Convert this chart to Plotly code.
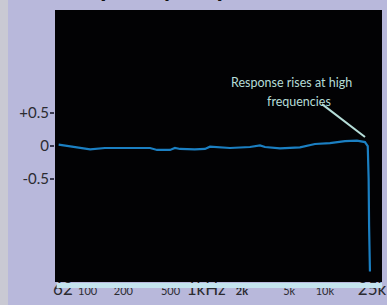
import numpy as np
import plotly.graph_objects as go

# Data (frequency in Hz, level in dB)
freq_hz = [57, 62, 75, 90, 105, 140, 206, 280, 336, 385, 495, 545, 601, 800, 976,
           1075, 1586, 2338, 2838, 3128, 4187, 6170, 8255, 11045, 14780, 18660,
           21790, 23000, 23400, 23600, 23800, 24000]
level_db = [0.02, 0.01, -0.02, -0.04, -0.05, -0.03, -0.03, -0.04, -0.03, -0.06, -0.06,
            -0.03, -0.045, -0.05, -0.045, -0.01, -0.03, -0.015, 0.01, -0.015, -0.035,
            -0.02, 0.03, 0.045, 0.075, 0.08, 0.06, 0.0, -0.5, -1.2, -1.6, -1.9]

x_tick_vals = [62, 100, 200, 500, 1000, 2000, 5000, 10000, 25000]
x_tick_text = ['<span style="font-size:17px">62</span>', '100', '200', '500',
               '<span style="font-size:17px">1kHz</span>', '<b>2k</b>', '5k', '10k',
               '<span style="font-size:17px">25k</span>']
y_tick_vals = [0.5, 0, -0.5]
y_tick_text = ['+0.5', '0', '-0.5']

title_text = "Frequency response"
note_line1 = "Response rises at high"
note_line2 = "frequencies"

BG = "#b8b8db"
TXT = "#2b2b30"
NOTE = "#b5ddd8"

fig = go.Figure()
fig.add_trace(go.Scatter(x=freq_hz, y=level_db, mode="lines",
                         line=dict(color="#1b7fc2", width=2.2), hoverinfo="skip"))

fig.update_layout(
    width=387, height=305,
    margin=dict(l=55, r=5, t=10, b=23, autoexpand=False),
    paper_bgcolor=BG, plot_bgcolor="#020204",
    showlegend=False,
    font=dict(family="Lato, sans-serif", color=TXT),
    xaxis=dict(type="log", range=[np.log10(53.1), np.log10(30330)],
               tickmode="array", tickvals=x_tick_vals, ticktext=x_tick_text,
               tickfont=dict(size=11, color=TXT), showgrid=False, zeroline=False,
               ticks="", showline=False, ticklabelstandoff=1),
    yaxis=dict(range=[-2.06, 2.06], tickmode="array", tickvals=y_tick_vals,
               ticktext=y_tick_text, tickfont=dict(size=15, color=TXT),
               showgrid=False, zeroline=False, ticks="outside", ticklen=4,
               tickwidth=2, tickcolor="#3a3a50", showline=False, ticklabelstandoff=-2),
    shapes=[
        dict(type="rect", xref="paper", yref="paper", x0=-55/327, x1=-47/327,
             y0=-23/272, y1=1+10/272, fillcolor="#c9c9d3", line=dict(width=0), layer="below"),
        dict(type="rect", xref="paper", yref="paper", x0=0.005, x1=1,
             y0=-6/272, y1=-1/272, fillcolor="#c4e4ee", line=dict(width=0)),
        dict(type="line", xref="paper", yref="paper", x0=0.8165, y0=0.654,
             x1=0.948, y1=0.533, line=dict(color=NOTE, width=2)),
    ],
    annotations=[
        dict(text=note_line1, xref="paper", yref="paper", x=0.722, y=0.735,
             xanchor="center", yanchor="middle",
             showarrow=False, font=dict(size=12.5, color=NOTE)),
        dict(text=note_line2, xref="paper", yref="paper", x=0.746, y=0.665,
             xanchor="center", yanchor="middle",
             showarrow=False, font=dict(size=12.5, color=NOTE)),
        dict(text="<b>" + title_text + "</b>", xref="paper", yref="paper",
             x=(170-55)/327, y=1+5/272, xanchor="center", yanchor="bottom", showarrow=False,
             font=dict(size=26, color="#111111")),
    ],
)

fig.write_html("out.html", config={"displayModeBar": False},
               post_script="document.body.style.margin='0';document.body.style.background='%s';" % BG)
